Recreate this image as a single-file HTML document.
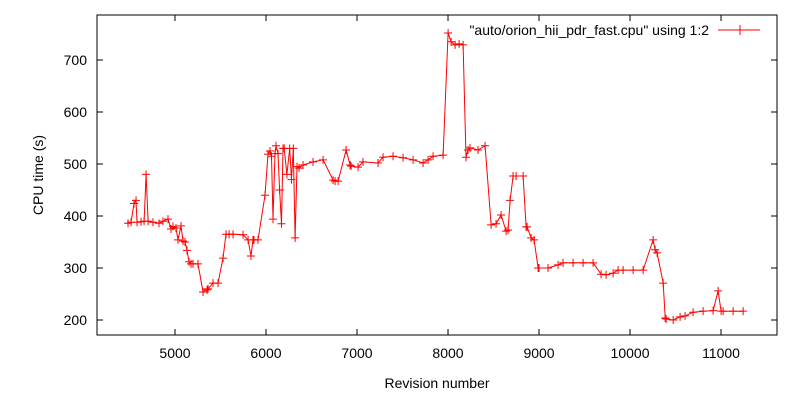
<!DOCTYPE html>
<html><head><meta charset="utf-8"><style>
html,body{margin:0;padding:0;background:#fff;}
svg{display:block;font-family:"Liberation Sans",sans-serif;}
</style></head><body>
<svg id="chart" width="800" height="400" xmlns="http://www.w3.org/2000/svg">
<rect x="97" y="15" width="680" height="320" fill="none" stroke="#000" stroke-width="1"/>
<g id="axes"></g>
<polyline id="series" fill="none" stroke="#f00" stroke-width="1"/>
<g id="marks" stroke="#f00" stroke-width="1"></g>
<text x="43" y="175" transform="rotate(-90 43 175)" text-anchor="middle" font-size="14">CPU time (s)</text>
<text x="437" y="388" text-anchor="middle" font-size="14">Revision number</text>
<g>
<text x="709" y="35" text-anchor="end" font-size="14">"auto/orion_hii_pdr_fast.cpu" using 1:2</text>
<line x1="718" y1="30" x2="760" y2="30" stroke="#f00"/>
<path d="M735 30h10M740 25v10" stroke="#f00"/>
</g>
</svg>
<script>
const xTicks = [5000, 6000, 7000, 8000, 9000, 10000, 11000];
const yTicks = [200, 300, 400, 500, 600, 700];
const revisions = [4484,4517,4550,4572,4583,4627,4660,4682,4704,4758,4824,4868,4923,4956,4978,5011,5033,5066,5088,5110,5132,5154,5176,5198,5253,5308,5352,5363,5418,5473,5528,5561,5594,5638,5748,5803,5835,5857,5868,5912,5989,6022,6044,6060,6077,6099,6110,6132,6150,6170,6187,6200,6230,6260,6280,6300,6320,6341,6363,6407,6517,6627,6737,6759,6792,6880,6924,6935,7011,7066,7231,7286,7396,7506,7616,7726,7781,7836,7946,8001,8034,8078,8122,8166,8198,8220,8242,8330,8407,8473,8528,8583,8638,8660,8682,8715,8748,8825,8858,8869,8913,8946,8990,9000,9099,9209,9264,9374,9484,9594,9682,9737,9814,9869,9924,10034,10144,10254,10276,10298,10364,10386,10397,10474,10550,10605,10693,10803,10913,10968,11001,11023,11133,11243,11331];
const cpuTimes = [386,388,424,430,388,389,390,480,390,388,386,390,394,375,380,377,354,381,352,350,334,312,308,308,308,254,258,260,271,271,319,365,365,365,364,354,323,354,354,354,440,519,525,515,394,520,535,520,450,385,530,530,480,530,470,530,358,495,492,498,504,508,469,467,467,527,498,496,494,504,502,513,515,512,508,502,508,515,517,752,735,729,731,729,513,527,531,527,535,383,385,402,371,373,430,477,477,477,379,379,358,354,300,300,300,306,310,310,310,310,288,287,290,296,296,296,296,354,335,329,271,204,202,200,206,208,215,217,218,256,217,217,217,217];
const X0 = 4143, X1 = 11615, PX0 = 97, PX1 = 777;
const Y0 = 171.2, Y1 = 786.5, PY0 = 335, PY1 = 15;
function xs(v){ return PX0 + (v - X0) / (X1 - X0) * (PX1 - PX0); }
function ys(v){ return PY0 - (v - Y0) / (Y1 - Y0) * (PY0 - PY1); }
const NS = "http://www.w3.org/2000/svg";
const axes = document.getElementById('axes');
xTicks.forEach(t => {
  const x = xs(t);
  const tk = document.createElementNS(NS, 'path');
  tk.setAttribute('d', `M${x} 335v-6M${x} 15v6`);
  tk.setAttribute('stroke', '#000');
  
  
  axes.appendChild(tk);
  const lb = document.createElementNS(NS, 'text');
  lb.setAttribute('x', x); lb.setAttribute('y', 358);
  lb.setAttribute('text-anchor', 'middle'); lb.setAttribute('font-size', '14');
  
  
  lb.textContent = t;
  axes.appendChild(lb);
});
yTicks.forEach(t => {
  const y = ys(t);
  const tk = document.createElementNS(NS, 'path');
  tk.setAttribute('d', `M97 ${y}h6M777 ${y}h-6`);
  tk.setAttribute('stroke', '#000');
  
  
  axes.appendChild(tk);
  const lb = document.createElementNS(NS, 'text');
  lb.setAttribute('x', 87); lb.setAttribute('y', y + 5);
  lb.setAttribute('text-anchor', 'end'); lb.setAttribute('font-size', '14');
  
  
  lb.textContent = t;
  axes.appendChild(lb);
});
const pts = revisions.map((r, i) => [xs(r), ys(cpuTimes[i])]);
document.getElementById('series').setAttribute('points', pts.map(p => p[0].toFixed(1) + ',' + p[1].toFixed(1)).join(' '));
const marks = document.getElementById('marks');
pts.forEach(p => {
  const m = document.createElementNS(NS, 'path');
  m.setAttribute('d', `M${p[0]-4} ${p[1]}h8M${p[0]} ${p[1]-4}v8`);
  
  
  marks.appendChild(m);
});
</script>
</body></html>
